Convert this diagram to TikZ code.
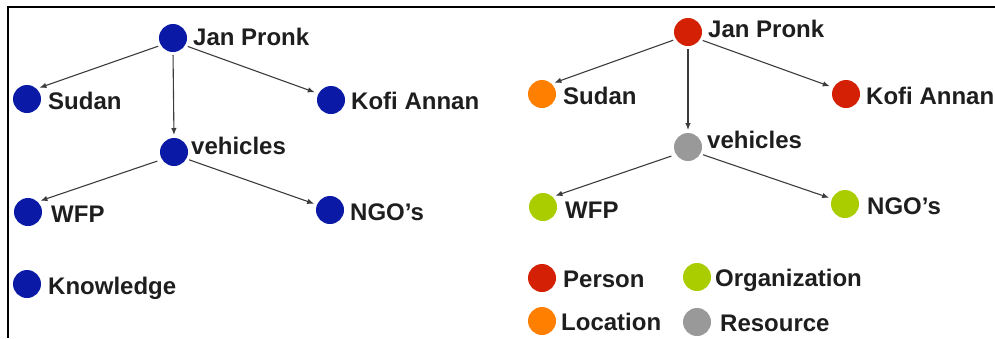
\documentclass[tikz,border=0pt]{standalone}
\usepackage{fontspec}
\setmainfont{Liberation Sans}
\usetikzlibrary{arrows.meta}
\definecolor{nblue}{RGB}{10,26,166}
\definecolor{nred}{RGB}{212,32,4}
\definecolor{norange}{RGB}{255,128,0}
\definecolor{ngreen}{RGB}{170,205,0}
\definecolor{ngray}{RGB}{153,153,153}
\definecolor{ntext}{RGB}{30,30,30}
\definecolor{nline}{RGB}{60,60,60}
\tikzset{
  dot/.style={circle,fill=#1,draw=none,minimum size=28pt,inner sep=0pt,outer sep=0pt},
  lbl/.style={anchor=base west,inner sep=0pt,text=ntext,font=\fontsize{24pt}{28pt}\selectfont\bfseries},
  conn/.style={draw=nline,line width=1.1pt,-{Latex[length=7pt,width=5.5pt]},shorten <=3pt,shorten >=3pt},
  frame/.style={line width=2pt,draw=black}
}
\begin{document}
\begin{tikzpicture}[x=1pt,y=-1pt]
\useasboundingbox (0,0) rectangle (995,338);
\coordinate (fA) at (7.5,338);
\coordinate (fB) at (7.5,6.5);
\coordinate (fC) at (995,6.5);
\draw[frame] (fA) -- (fB) -- (fC);
% left graph
\node[dot=nblue] (ljp) at (173,38) {};
\node[dot=nblue] (lsu) at (27,99) {};
\node[dot=nblue] (lko) at (331,100) {};
\node[dot=nblue] (lve) at (174,152) {};
\node[dot=nblue] (lwf) at (28,212) {};
\node[dot=nblue] (lng) at (330,210) {};
\node[dot=nblue] (lkn) at (27,284) {};
\node[lbl] (tljp) at (193,45) {Jan Pronk};
\node[lbl] (tlsu) at (48,109) {Sudan};
\node[lbl] (tlko) at (351,109) {Kofi Annan};
\node[lbl] (tlve) at (191,154) {vehicles};
\node[lbl] (tlwf) at (51,222) {WFP};
\node[lbl] (tlng) at (350,220) {NGO’s};
\node[lbl] (tlkn) at (48,294) {Knowledge};
\draw[conn] (ljp.211) -- (lsu.47);
\draw[conn,shorten >=4pt] (ljp.328) -- (lko.153);
\draw[conn] (ljp.270) -- (lve.90);
\draw[conn,shorten <=5pt] (lve.212) -- (lwf.47);
\draw[conn] (lve.331) -- (lng.158);
% right graph
\node[dot=nred] (rjp) at (688,32) {};
\node[dot=norange] (rsu) at (542,94) {};
\node[dot=nred] (rko) at (846,94) {};
\node[dot=ngray] (rve) at (688,147) {};
\node[dot=ngreen] (rwf) at (543,207) {};
\node[dot=ngreen] (rng) at (845,204) {};
\node[lbl] (trjp) at (708,37) {Jan Pronk};
\node[lbl] (trsu) at (563,104) {Sudan};
\node[lbl] (trko) at (866,104) {Kofi Annan};
\node[lbl] (trve) at (707,148) {vehicles};
\node[lbl] (trwf) at (565,218) {WFP};
\node[lbl] (trng) at (867,214) {NGO’s};
\draw[conn] (rjp.211) -- (rsu.47);
\draw[conn,shorten >=4pt] (rjp.328) -- (rko.153);
\draw[conn] (rjp.270) -- (rve.90);
\draw[conn,shorten <=5pt] (rve.212) -- (rwf.47);
\draw[conn] (rve.331) -- (rng.158);
% legend
\node[dot=nred] (gp) at (542,278) {};
\node[dot=norange] (gl) at (542,321) {};
\node[dot=ngreen] (go) at (697,277) {};
\node[dot=ngray] (gr) at (697,322) {};
\node[lbl] (tgp) at (563,287) {Person};
\node[lbl] (tgl) at (561,330) {Location};
\node[lbl] (tgo) at (715,286) {Organization};
\node[lbl] (tgr) at (720,331) {Resource};
\end{tikzpicture}
\end{document}
